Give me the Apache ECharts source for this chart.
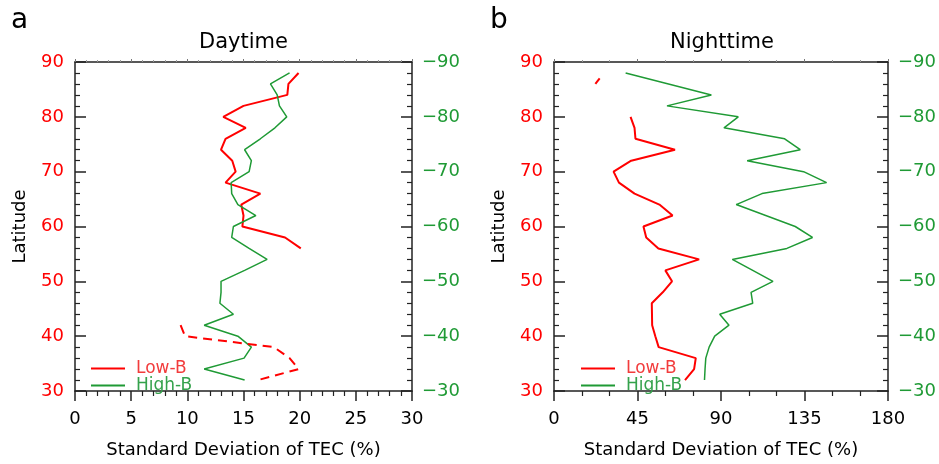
<!DOCTYPE html>
<html>
<head>
<meta charset="utf-8">
<script src="https://cdn.jsdelivr.net/npm/echarts@6/dist/echarts.min.js"></script>
<style>
  html, body { margin: 0; padding: 0; background: #fff; }
  #chart { width: 939px; height: 464px; }
</style>
</head>
<body>
<div id="chart"></div>
<script>
// Panel a (daytime): standard deviation of TEC (%) by latitude
const dayLowLatSolid = [88, 86, 84, 82, 80, 78, 76, 74, 72, 70, 68, 66, 64, 62, 60, 58, 56];
const dayLowValSolid = [19.9, 19.0, 18.9, 15.0, 13.2, 15.2, 13.4, 13.0, 14.0, 14.3, 13.4, 16.5, 14.8, 15.0, 14.9, 18.7, 20.1];
const dayLowLatDashed = [42, 40, 38, 36, 34, 32];
const dayLowValDashed = [9.4, 9.8, 17.7, 19.1, 19.9, 16.3];
const dayHighLat = [88, 86, 84, 82, 80, 78, 76, 74, 72, 70, 68, 66, 64, 62, 60, 58, 56, 54, 52, 50, 48, 46, 44, 42, 40, 38, 36, 34, 32];
const dayHighVal = [19.1, 17.4, 18.0, 18.2, 18.85, 17.8, 16.5, 15.1, 15.7, 15.5, 13.9, 13.95, 14.5, 16.1, 14.1, 13.95, 15.5, 17.1, 15.1, 13.0, 13.0, 12.9, 14.1, 11.5, 14.5, 15.7, 15.05, 11.5, 15.1];

// Panel b (nighttime)
const nightLowLatTop = [87, 86];
const nightLowValTop = [24.6, 22.3];
const nightLowLat = [80, 78, 76, 74, 72, 70, 68, 66, 64, 62, 60, 58, 56, 54, 52, 50, 48, 46, 44, 42, 40, 38, 36, 34, 32];
const nightLowVal = [41.25, 43.4, 43.9, 65.2, 41.6, 32.1, 35.0, 43.4, 56.8, 63.9, 48.2, 49.7, 56.25, 78.2, 60.0, 63.6, 58.6, 52.7, 52.8, 52.9, 54.6, 56.4, 76.4, 75.5, 70.6];
const nightHighLat = [88, 86, 84, 82, 80, 78, 76, 74, 72, 70, 68, 66, 64, 62, 60, 58, 56, 54, 52, 50, 48, 46, 44, 42, 40, 38, 36, 34, 32];
const nightHighVal = [38.6, 61.7, 84.8, 60.9, 99.3, 91.6, 124.3, 132.7, 104.1, 134.5, 146.9, 112.1, 98.2, 114.1, 130.0, 139.3, 125.5, 96.1, 107.1, 118.0, 106.2, 107.1, 89.3, 94.3, 86.6, 83.6, 81.8, 81.4, 81.1];

// Axis settings
const dayXTicks = { min: 0, max: 30, interval: 5, minorSplit: 5 };
const nightXTicks = { min: 0, max: 180, interval: 45, minorSplit: 3 };
const northLat = { min: 30, max: 90, interval: 10 };
const southLat = { min: -90, max: -30, interval: 10 };
const panelTitles = ['Daytime', 'Nighttime'];
const panelLetters = ['a', 'b'];
const xAxisTitle = 'Standard Deviation of TEC (%)';
const yAxisTitle = 'Latitude';
const legendNames = ['Low-B', 'High-B'];

const RED = '#ff0000';
const GREEN = '#1f9a35';
const FONT = 'DejaVu Sans';

const pairs = (vals, lats, sign) => vals.map((v, i) => [v, sign * lats[i]]);

const grids = [
  { left: 75, top: 62, width: 337, height: 330 },
  { left: 554, top: 62, width: 336, height: 330 }
];

function bottomX(gridIndex, t) {
  return {
    type: 'value', gridIndex, position: 'bottom',
    min: t.min, max: t.max, interval: t.interval,
    name: xAxisTitle, nameLocation: 'middle', nameGap: 50,
    nameTextStyle: { fontFamily: FONT, fontSize: 18, color: '#000' },
    axisLine: { onZero: false, lineStyle: { color: '#222', width: 1.5 } },
    axisTick: { show: true, inside: false, length: 10, lineStyle: { color: '#222', width: 1.5 } },
    minorTick: { show: true, splitNumber: t.minorSplit, length: 5, lineStyle: { color: '#222', width: 1.2 } },
    axisLabel: { fontFamily: FONT, fontSize: 18, color: '#000', margin: 19 },
    splitLine: { show: false }
  };
}
function topX(gridIndex, t) {
  return {
    type: 'value', gridIndex, position: 'top',
    min: t.min, max: t.max, interval: t.interval,
    axisLine: { onZero: false, lineStyle: { color: '#222', width: 1.5 } },
    axisTick: { show: true, inside: false, length: 3, lineStyle: { color: '#777', width: 1 } },
    minorTick: { show: true, splitNumber: t.minorSplit, length: 2, lineStyle: { color: '#999', width: 1 } },
    axisLabel: { show: false },
    splitLine: { show: false }
  };
}
function leftY(gridIndex) {
  return {
    type: 'value', gridIndex, position: 'left',
    min: northLat.min, max: northLat.max, interval: northLat.interval,
    name: yAxisTitle, nameLocation: 'middle', nameGap: 46, nameRotate: 90,
    nameTextStyle: { fontFamily: FONT, fontSize: 18, color: '#000' },
    axisLine: { onZero: false, lineStyle: { color: '#222', width: 1.5 } },
    axisTick: { show: true, inside: true, length: 11, lineStyle: { color: '#222', width: 1.5 } },
    minorTick: { show: true, splitNumber: 5, length: 5, lineStyle: { color: '#222', width: 1.2 } },
    axisLabel: { fontFamily: FONT, fontSize: 18, color: RED, margin: 11 },
    splitLine: { show: false }
  };
}
function rightY(gridIndex) {
  return {
    type: 'value', gridIndex, position: 'right', inverse: true,
    min: southLat.min, max: southLat.max, interval: southLat.interval,
    axisLine: { onZero: false, lineStyle: { color: '#222', width: 1.5 } },
    axisTick: { show: true, inside: true, length: 11, lineStyle: { color: '#222', width: 1.5 } },
    minorTick: { show: true, splitNumber: 5, length: 5, lineStyle: { color: '#222', width: 1.2 } },
    axisLabel: {
      fontFamily: FONT, fontSize: 18, color: GREEN, margin: 10,
      formatter: v => (v < 0 ? '\u2212' : '') + Math.abs(v)
    },
    splitLine: { show: false }
  };
}

function lineSeries(name, xi, yi, data, color, width, dashed) {
  return {
    type: 'line', name, xAxisIndex: xi, yAxisIndex: yi, data,
    symbol: 'none', smooth: false, animation: false,
    lineStyle: { color, width, type: dashed ? [9, 6] : 'solid' },
    itemStyle: { color }
  };
}

function legendAt(left) {
  return {
    orient: 'vertical', left, top: 355,
    icon: 'rect', itemWidth: 34, itemHeight: 2, itemGap: 0,
    selectedMode: false,
    data: [
      { name: legendNames[0], textStyle: { color: '#f23c3c' } },
      { name: legendNames[1], textStyle: { color: '#35a24c' } }
    ],
    textStyle: { fontFamily: FONT, fontSize: 17, padding: [0, 0, 0, 6] }
  };
}

const chart = echarts.init(document.getElementById('chart'), null, { renderer: 'canvas' });
chart.setOption({
  animation: false,
  backgroundColor: '#fff',
  grid: grids,
  xAxis: [bottomX(0, dayXTicks), topX(0, dayXTicks), bottomX(1, nightXTicks), topX(1, nightXTicks)],
  yAxis: [leftY(0), rightY(0), leftY(1), rightY(1)],
  legend: [legendAt(86), legendAt(576)],
  series: [
    lineSeries(legendNames[0], 0, 0, pairs(dayLowValSolid, dayLowLatSolid, 1), RED, 2, false),
    lineSeries(legendNames[1], 0, 1, pairs(dayHighVal, dayHighLat, -1), GREEN, 1.5, false),
    lineSeries(legendNames[0], 0, 0, pairs(dayLowValDashed, dayLowLatDashed, 1), RED, 2, true),
    lineSeries(legendNames[0], 2, 2, pairs(nightLowValTop, nightLowLatTop, 1), RED, 2, false),
    lineSeries(legendNames[0], 2, 2, pairs(nightLowVal, nightLowLat, 1), RED, 2, false),
    lineSeries(legendNames[1], 2, 3, pairs(nightHighVal, nightHighLat, -1), GREEN, 1.5, false)
  ],
  graphic: [
    { type: 'text', x: 11, y: 21, style: { text: panelLetters[0], font: '28px "DejaVu Sans"', fill: '#000', textVerticalAlign: 'middle' } },
    { type: 'text', x: 490, y: 21, style: { text: panelLetters[1], font: '28px "DejaVu Sans"', fill: '#000', textVerticalAlign: 'middle' } },
    { type: 'text', x: 243.5, y: 43, style: { text: panelTitles[0], font: '21px "DejaVu Sans"', fill: '#000', textAlign: 'center', textVerticalAlign: 'middle' } },
    { type: 'text', x: 722, y: 43, style: { text: panelTitles[1], font: '21px "DejaVu Sans"', fill: '#000', textAlign: 'center', textVerticalAlign: 'middle' } }
  ]
});
</script>
</body>
</html>
